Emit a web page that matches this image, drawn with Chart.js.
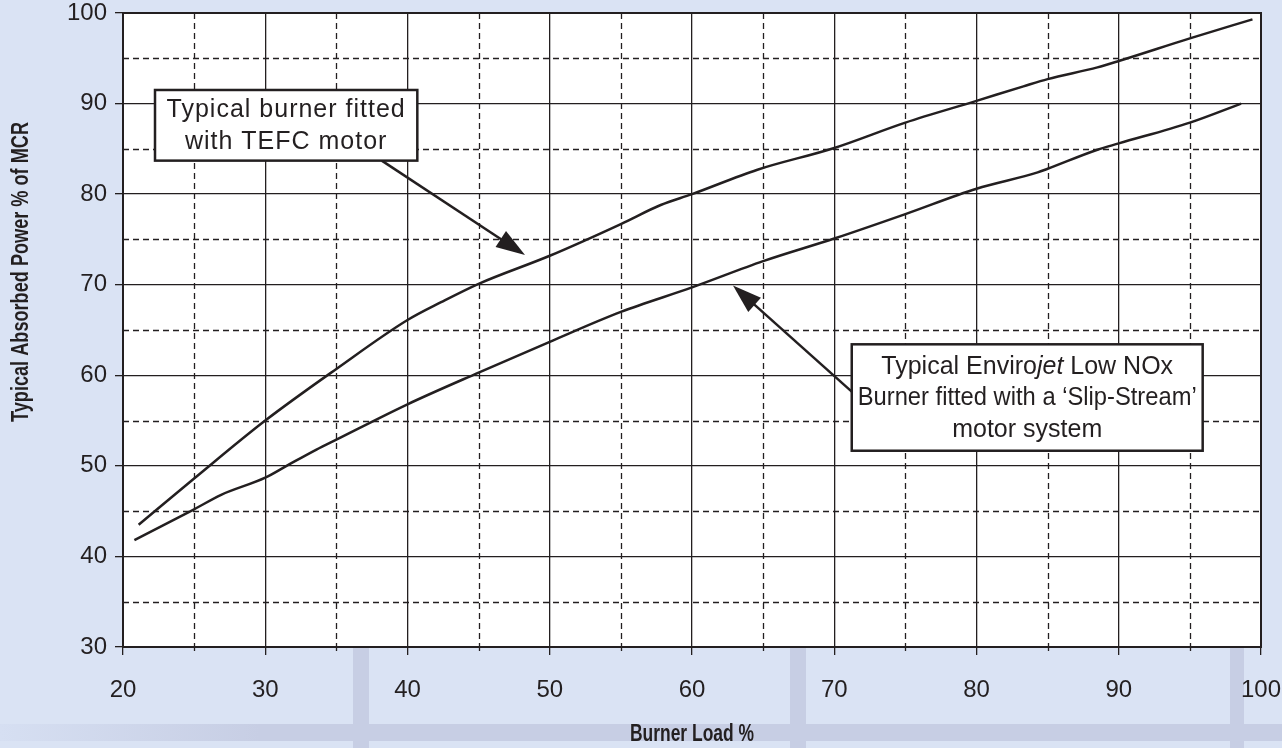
<!DOCTYPE html>
<html>
<head>
<meta charset="utf-8">
<title>Typical Absorbed Power</title>
<script src="https://cdn.jsdelivr.net/npm/chart.js@4.4.1/dist/chart.umd.min.js"></script>
<style>
    html, body { margin: 0; padding: 0; }
    body { width: 1282px; height: 748px; overflow: hidden; background: #dae3f4; }
    #wrap { position: relative; width: 1282px; height: 748px; }
    .strip { position: absolute; background: #c7cee4; }
    canvas { position: absolute; left: 0; top: 0; }
</style>
</head>
<body>
<div id="wrap">
    <div class="strip" style="left:0;top:724px;width:1282px;height:17px;background:linear-gradient(90deg,#d6dff2 0,#c7cee4 260px)"></div>
    <div class="strip" style="left:353px;top:645px;width:16px;height:103px"></div>
    <div class="strip" style="left:790px;top:645px;width:16px;height:103px"></div>
    <div class="strip" style="left:1230px;top:645px;width:14px;height:103px"></div>
    <canvas id="powerChart" width="1282" height="748"></canvas>
</div>
<script>
// burner load % (x) and absorbed power % of MCR (y)
const loadTefc = [21.1, 25, 30, 35, 40, 42.4, 45, 50, 55, 57.8, 60, 64.6, 70, 75, 80, 83.3, 85, 88.5, 90, 95, 99.4];
const powerTefc = [43.5, 48.6, 55.0, 60.7, 66.1, 68.1, 70.1, 73.2, 76.7, 78.8, 80.0, 82.7, 85.1, 87.9, 90.3, 91.9, 92.7, 94.0, 94.7, 97.2, 99.3];

const loadSlip = [20.8, 25, 26.9, 30, 31.5, 33.6, 35, 40, 45, 50, 55, 60, 65, 70, 75, 80, 84.3, 85, 88.5, 90, 95, 98.6];
const powerSlip = [41.8, 45.2, 46.8, 48.7, 50.0, 51.8, 52.9, 56.8, 60.3, 63.7, 67.0, 69.7, 72.6, 75.1, 77.8, 80.6, 82.4, 82.8, 84.9, 85.6, 87.9, 90.0];

const xTicks = [20, 30, 40, 50, 60, 70, 80, 90, 100];
const yTicks = [30, 40, 50, 60, 70, 80, 90, 100];
const xMinor = [25, 35, 45, 55, 65, 75, 85, 95];
const yMinor = [35, 45, 55, 65, 75, 85, 95];

const xTitle = 'Burner Load %';
const yTitle = 'Typical Absorbed Power % of MCR';

// callout boxes, placed in chart units
const notes = [
    {
        lines: [[['Typical burner fitted']], [['with TEFC motor']]],
        box: [22.25, 91.5, 40.69, 83.7],
        from: [38.19, 83.7],
        to: [48.26, 73.28],
        spacing: '1px'
    },
    {
        lines: [
            [['Typical Enviro'], ['jet', true], [' Low NOx']],
            [['Burner fitted with a \u2018Slip-Stream\u2019']],
            [['motor system']]
        ],
        box: [71.23, 63.42, 95.9, 51.67],
        from: [71.23, 58.19],
        to: [62.88, 69.91],
        spacing: '0px'
    }
];

const INK = '#231f20';
const FONT = '"Liberation Sans", Arial, sans-serif';
const NARROW = '"Liberation Sans Narrow", "Liberation Sans", Arial, sans-serif';

function arrow(ctx, x1, y1, x2, y2) {
    const len = Math.hypot(x2 - x1, y2 - y1);
    const ux = (x2 - x1) / len, uy = (y2 - y1) / len;
    const head = 29, half = 9.5;
    const bx = x2 - ux * head, by = y2 - uy * head;
    ctx.beginPath();
    ctx.moveTo(x1, y1);
    ctx.lineTo(bx + ux * 4, by + uy * 4);
    ctx.stroke();
    ctx.beginPath();
    ctx.moveTo(x2, y2);
    ctx.lineTo(bx - uy * half, by + ux * half);
    ctx.lineTo(bx + uy * half, by - ux * half);
    ctx.closePath();
    ctx.fill();
}

const paperPlugin = {
    id: 'paper',
    beforeDraw(chart) {
        const { ctx, chartArea: a } = chart;
        ctx.save();
        ctx.fillStyle = '#ffffff';
        ctx.fillRect(a.left, a.top, a.right - a.left, a.bottom - a.top);
        ctx.restore();
    },
    beforeDatasetsDraw(chart) {
        const { ctx, chartArea: a, scales: { x, y } } = chart;
        ctx.save();
        ctx.strokeStyle = INK;
        ctx.lineWidth = 1.3;
        ctx.setLineDash([6, 4]);
        xMinor.forEach(v => {
            const px = Math.round(x.getPixelForValue(v)) + 0.5;
            ctx.beginPath();
            ctx.moveTo(px, a.top);
            ctx.lineTo(px, a.bottom);
            ctx.stroke();
        });
        yMinor.forEach(v => {
            const py = Math.round(y.getPixelForValue(v)) + 0.5;
            ctx.beginPath();
            ctx.moveTo(a.left, py);
            ctx.lineTo(a.right, py);
            ctx.stroke();
        });
        ctx.setLineDash([]);
        // short minor ticks under the x axis
        xMinor.forEach(v => {
            const px = Math.round(x.getPixelForValue(v)) + 0.5;
            ctx.beginPath();
            ctx.moveTo(px, a.bottom);
            ctx.lineTo(px, a.bottom + 4);
            ctx.stroke();
        });
        ctx.restore();
    },
    afterDatasetsDraw(chart) {
        const { ctx, chartArea: a, scales: { x, y } } = chart;
        ctx.save();
        ctx.strokeStyle = INK;
        ctx.fillStyle = INK;
        ctx.lineWidth = 2;
        ctx.strokeRect(a.left, a.top, a.right - a.left, a.bottom - a.top);

        notes.forEach(n => {
            const l = x.getPixelForValue(n.box[0]), t = y.getPixelForValue(n.box[1]);
            const r = x.getPixelForValue(n.box[2]), b = y.getPixelForValue(n.box[3]);
            ctx.lineWidth = 2.5;
            arrow(ctx, x.getPixelForValue(n.from[0]), y.getPixelForValue(n.from[1]),
                x.getPixelForValue(n.to[0]), y.getPixelForValue(n.to[1]));
            ctx.fillStyle = '#ffffff';
            ctx.fillRect(l, t, r - l, b - t);
            ctx.strokeRect(l, t, r - l, b - t);
            ctx.fillStyle = INK;
            const cx = (l + r) / 2, cy = (t + b) / 2, gap = 31.5;
            const room = r - l - 12;
            ctx.textBaseline = 'middle';
            ctx.letterSpacing = n.spacing;
            n.lines.forEach((parts, i) => {
                const ly = cy + (i - (n.lines.length - 1) / 2) * gap + 1;
                const widths = parts.map(p => {
                    ctx.font = (p[1] ? 'italic ' : '') + '25px ' + FONT;
                    return ctx.measureText(p[0]).width;
                });
                const total = widths.reduce((s, w) => s + w, 0);
                const k = Math.min(1, room / total);
                let px = cx - total * k / 2;
                ctx.textAlign = 'left';
                parts.forEach((p, j) => {
                    ctx.font = (p[1] ? 'italic ' : '') + '25px ' + FONT;
                    ctx.fillText(p[0], px, ly, widths[j] * k);
                    px += widths[j] * k;
                });
            });
            ctx.letterSpacing = '0px';
        });
        ctx.restore();
    },
    afterDraw(chart) {
        const { ctx, chartArea: a } = chart;
        ctx.save();
        ctx.fillStyle = INK;
        ctx.font = 'bold 24px ' + NARROW;
        ctx.textAlign = 'center';
        ctx.textBaseline = 'middle';
        ctx.fillText(xTitle, (a.left + a.right) / 2, 734, 124);
        ctx.translate(21, 272);
        ctx.rotate(-Math.PI / 2);
        ctx.fillText(yTitle, 0, 0, 300);
        ctx.restore();
    }
};

document.addEventListener('DOMContentLoaded', () => {
    const canvas = document.getElementById('powerChart');
    if (!canvas) return;

    const ctx = canvas.getContext('2d');

    const lineStyle = {
        borderColor: INK,
        borderWidth: 2.5,
        pointRadius: 0,
        showLine: true,
        fill: false,
        cubicInterpolationMode: 'monotone'
    };

    new Chart(ctx, {
        type: 'scatter',
        data: {
            datasets: [
                {
                    label: 'Typical burner fitted with TEFC motor',
                    data: loadTefc.map((v, i) => ({ x: v, y: powerTefc[i] })),
                    ...lineStyle
                },
                {
                    label: 'Typical Envirojet Low NOx Burner fitted with a Slip-Stream motor system',
                    data: loadSlip.map((v, i) => ({ x: v, y: powerSlip[i] })),
                    ...lineStyle
                }
            ]
        },
        options: {
            responsive: false,
            animation: false,
            layout: {
                padding: { top: 13, right: 21, left: 0, bottom: 0 }
            },
            plugins: {
                legend: { display: false },
                tooltip: { enabled: false }
            },
            scales: {
                x: {
                    type: 'linear',
                    min: 20,
                    max: 100,
                    afterBuildTicks: s => { s.ticks = xTicks.map(v => ({ value: v })); },
                    afterFit: s => { s.height = 101; s.paddingLeft = 0; s.paddingRight = 0; },
                    ticks: {
                        color: INK,
                        font: { family: FONT, size: 24 },
                        padding: 21,
                        maxRotation: 0,
                        autoSkip: false
                    },
                    grid: { color: INK, lineWidth: 1.3, tickLength: 8 },
                    border: { color: INK, width: 2 }
                },
                y: {
                    type: 'linear',
                    min: 30,
                    max: 100,
                    afterBuildTicks: s => { s.ticks = yTicks.map(v => ({ value: v })); },
                    afterFit: s => { s.width = 123; s.paddingTop = 0; s.paddingBottom = 0; },
                    ticks: {
                        color: INK,
                        font: { family: FONT, size: 24 },
                        padding: 8,
                        autoSkip: false
                    },
                    grid: { color: INK, lineWidth: 1.3, tickLength: 8 },
                    border: { color: INK, width: 2 }
                }
            }
        },
        plugins: [paperPlugin]
    });
});
</script>
</body>
</html>
